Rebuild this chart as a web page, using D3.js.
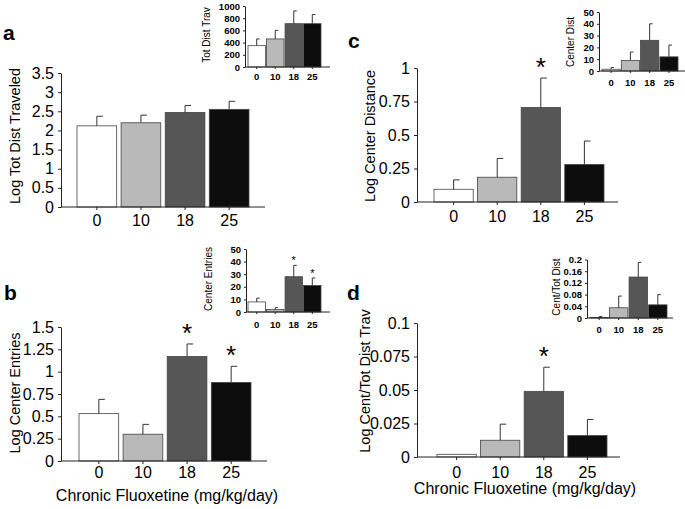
<!DOCTYPE html>
<html>
<head>
<meta charset="utf-8">
<script src="https://cdn.jsdelivr.net/npm/d3@7"></script>
<style>
  body { margin: 0; background: #fff; }
  svg { font-family: "Liberation Sans", Arial, sans-serif; }
</style>
</head>
<body>
<div id="chart"></div>
<script>
// doses on the x axis
const doses = ["0", "10", "18", "25"];
const barFill = ["#ffffff", "#b9b9b9", "#565656", "#0d0d0d"];

// panel a: log total distance traveled (inset: raw)
const aMean = [2.12, 2.2, 2.47, 2.55];
const aErr = [0.25, 0.2, 0.18, 0.21];
const aInsMean = [350, 460, 710, 710];
const aInsErr = [110, 140, 210, 150];

// panel b: log center entries (inset: raw)
const bMean = [0.53, 0.3, 1.17, 0.88];
const bErr = [0.16, 0.11, 0.14, 0.18];
const bInsMean = [8, 2, 28, 21];
const bInsErr = [3, 1.5, 9, 6];
const bStars = [false, false, true, true];

// panel c: log center distance (inset: raw)
const cMean = [0.095, 0.185, 0.705, 0.28];
const cErr = [0.07, 0.14, 0.22, 0.175];
const cInsMean = [1.5, 9, 26, 12];
const cInsErr = [1.5, 7, 14, 10];
const cStars = [false, false, true, false];

// panel d: log center / total distance (inset: raw ratio)
const dMean = [0.002, 0.0125, 0.049, 0.016];
const dErr = [0, 0.012, 0.018, 0.012];
const dInsMean = [0.002, 0.035, 0.14, 0.045];
const dInsErr = [0.003, 0.04, 0.05, 0.035];
const dStars = [false, false, true, false];

// tick values
const aTicks = [0, 0.5, 1, 1.5, 2, 2.5, 3, 3.5];
const bTicks = [0, 0.25, 0.5, 0.75, 1, 1.25, 1.5];
const cTicks = [0, 0.25, 0.5, 0.75, 1];
const dTicks = [0, 0.025, 0.05, 0.075, 0.1];
const aInsTicks = [0, 200, 400, 600, 800, 1000];
const bInsTicks = [0, 10, 20, 30, 40, 50];
const cInsTicks = [0, 10, 20, 30, 40, 50];
const dInsTicks = [0, 0.04, 0.08, 0.12, 0.16, 0.2];

const width = 685, height = 509;
const svg = d3.select("#chart").append("svg")
  .attr("width", width).attr("height", height);

const fmt = d => String(+d.toFixed(3));

// draws one bar panel (main or inset)
function drawBars(o) {
  const y = d3.scaleLinear().domain(o.domain).range([o.y0, o.yTop]);
  const x = d3.scaleBand().domain(doses).range(o.bars).paddingInner(o.pad);
  const g = svg.append("g");
  const rows = o.mean.map((v, i) => ({ dose: doses[i], v: v, e: o.err[i], i: i,
    star: o.stars ? o.stars[i] : false }));
  const cx = d => x(d.dose) + x.bandwidth() / 2;

  // bars
  g.selectAll("rect").data(rows).enter().append("rect")
    .attr("x", d => x(d.dose))
    .attr("width", x.bandwidth())
    .attr("y", d => y(d.v))
    .attr("height", d => o.y0 - y(d.v))
    .attr("fill", d => barFill[d.i])
    .attr("stroke", "#444")
    .attr("stroke-width", 0.8);

  // upper error bars
  const withErr = rows.filter(d => d.e > 0);
  g.selectAll(".ev").data(withErr).enter().append("line")
    .attr("x1", cx).attr("x2", cx)
    .attr("y1", d => y(d.v))
    .attr("y2", d => y(d.v + d.e))
    .attr("stroke", "#333").attr("stroke-width", 1);
  g.selectAll(".ec").data(withErr).enter().append("line")
    .attr("x1", cx).attr("x2", d => cx(d) + o.cap)
    .attr("y1", d => y(d.v + d.e))
    .attr("y2", d => y(d.v + d.e))
    .attr("stroke", "#333").attr("stroke-width", 1);

  // y axis
  const ya = g.append("g")
    .attr("transform", `translate(${o.axisX},0)`)
    .call(d3.axisLeft(y).tickValues(o.ticks).tickFormat(fmt)
      .tickSize(o.tick).tickSizeOuter(0).tickPadding(o.tickPad));
  ya.selectAll("text").attr("font-size", o.font).attr("font-weight", o.weight)
    .attr("fill", "#000").attr("font-family", "Liberation Sans, Arial, sans-serif");
  ya.selectAll("path,line").attr("stroke", "#222");

  // x axis
  g.append("line")
    .attr("x1", o.axisX).attr("x2", o.xEnd)
    .attr("y1", o.y0).attr("y2", o.y0)
    .attr("stroke", "#222");
  g.selectAll(".xt").data(rows).enter().append("line")
    .attr("x1", cx).attr("x2", cx)
    .attr("y1", o.y0).attr("y2", o.y0 + o.tick)
    .attr("stroke", "#222");
  g.selectAll(".xl").data(rows).enter().append("text")
    .attr("x", cx)
    .attr("y", o.xLabY)
    .attr("text-anchor", "middle")
    .attr("font-size", o.font).attr("font-weight", o.weight)
    .text(d => d.dose);

  // y title
  g.append("text")
    .attr("transform", `translate(${o.titleX},${o.titleY}) rotate(-90)`)
    .attr("text-anchor", "middle")
    .attr("font-size", o.titleFont)
    .text(o.title);

  // significance stars
  g.selectAll(".star").data(rows.filter(d => d.star)).enter().append("text")
    .attr("x", cx)
    .attr("y", d => y(d.v + d.e) - o.starGap)
    .attr("text-anchor", "middle")
    .attr("font-size", o.starFont)
    .text("*");
}

const mainBase = { pad: 0.1, cap: 6, tick: 3, tickPad: 4, font: 16, weight: "normal", titleFont: 14.5, starFont: 26, starGap: 2 };
const insBase = { pad: 0.06, cap: 3, tick: 2, tickPad: 3, font: 9.5, weight: "bold", titleFont: 10, starFont: 11, starGap: 1 };

// panel a
drawBars(Object.assign({}, mainBase, {
  mean: aMean, err: aErr, domain: [0, 3.5], ticks: aTicks,
  y0: 207, yTop: 73, axisX: 61, xEnd: 265, bars: [77, 249], xLabY: 226,
  title: "Log Tot Dist Traveled", titleX: 20, titleY: 136
}));
drawBars(Object.assign({}, insBase, {
  mean: aInsMean, err: aInsErr, domain: [0, 1000], ticks: aInsTicks,
  y0: 67, yTop: 6, axisX: 245, xEnd: 330, bars: [248, 321], xLabY: 80,
  title: "Tot Dist Trav", titleX: 210, titleY: 35
}));

// panel c
drawBars(Object.assign({}, mainBase, {
  mean: cMean, err: cErr, domain: [0, 1], ticks: cTicks, stars: cStars,
  y0: 202, yTop: 68, axisX: 417, xEnd: 618, bars: [434, 604], xLabY: 222,
  title: "Log Center Distance", titleX: 375, titleY: 136
}));
drawBars(Object.assign({}, insBase, {
  mean: cInsMean, err: cInsErr, domain: [0, 50], ticks: cInsTicks,
  y0: 71, yTop: 12, axisX: 599, xEnd: 685, bars: [602, 678], xLabY: 86,
  title: "Center Dist", titleX: 574, titleY: 42
}));

// panel b
drawBars(Object.assign({}, mainBase, {
  mean: bMean, err: bErr, domain: [0, 1.5], ticks: bTicks, stars: bStars,
  y0: 461, yTop: 327, axisX: 61, xEnd: 267, bars: [79, 251], xLabY: 478,
  title: "Log Center Entries", titleX: 20, titleY: 393
}));
drawBars(Object.assign({}, insBase, {
  mean: bInsMean, err: bInsErr, domain: [0, 50], ticks: bInsTicks, stars: bStars,
  y0: 312, yTop: 249, axisX: 246, xEnd: 330, bars: [248, 321], xLabY: 328,
  title: "Center Entries", titleX: 212, titleY: 279
}));

// panel d
drawBars(Object.assign({}, mainBase, {
  mean: dMean, err: dErr, domain: [0, 0.1], ticks: dTicks, stars: dStars,
  y0: 457, yTop: 323, axisX: 417, xEnd: 620, bars: [437, 607], xLabY: 478,
  title: "Log Cent/Tot Dist Trav", titleX: 370, titleY: 381
}));
drawBars(Object.assign({}, insBase, {
  mean: dInsMean, err: dInsErr, domain: [0, 0.2], ticks: dInsTicks,
  y0: 318, yTop: 259.5, axisX: 587, xEnd: 673, bars: [590, 667], xLabY: 333,
  title: "Cent/Tot Dist", titleX: 560, titleY: 287
}));

// shared x titles
svg.append("text").attr("x", 167).attr("y", 501).attr("text-anchor", "middle")
  .attr("font-size", 16).text("Chronic Fluoxetine (mg/kg/day)");
svg.append("text").attr("x", 525).attr("y", 494).attr("text-anchor", "middle")
  .attr("font-size", 16).text("Chronic Fluoxetine (mg/kg/day)");

// panel letters
[["a", 3, 40], ["c", 348, 48], ["b", 4, 300], ["d", 347, 300]].forEach(p => {
  svg.append("text").attr("x", p[1]).attr("y", p[2])
    .attr("font-size", 21).attr("font-weight", "bold").text(p[0]);
});
</script>
</body>
</html>
